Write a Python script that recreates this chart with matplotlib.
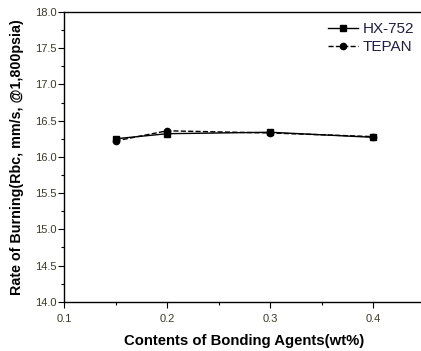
import matplotlib
matplotlib.use('Agg')
import matplotlib.pyplot as plt
from matplotlib.ticker import MultipleLocator

plt.rcParams['font.family'] = ['Liberation Sans', 'DejaVu Sans']

content = [0.15, 0.2, 0.3, 0.4]
hx752 = [16.25, 16.32, 16.34, 16.27]
tepan = [16.22, 16.36, 16.33, 16.28]

fig = plt.figure(figsize=(4.21, 3.51), dpi=100)
ax = fig.add_axes([0.152, 0.14, 0.857, 0.826])

ax.plot(content, hx752, '-', color='black', lw=1.0, marker='s', ms=5, label='HX-752')
ax.plot(content, tepan, '--', color='black', lw=1.0, marker='o', ms=4.5, label='TEPAN')

ax.set_xlim(0.1, 0.45)
ax.set_ylim(14.0, 18.0)
ax.xaxis.set_minor_locator(MultipleLocator(0.05))
ax.yaxis.set_minor_locator(MultipleLocator(0.25))
ax.set_xticks([0.1, 0.2, 0.3, 0.4])
ax.set_xticklabels(['0.1', '0.2', '0.3', '0.4'])
ax.set_yticks([14.0 + 0.5 * i for i in range(9)])
ax.set_yticklabels(['%.1f' % (14.0 + 0.5 * i) for i in range(9)])

ax.tick_params(which='major', direction='out', length=4, width=0.8,
               labelsize=8, labelcolor='#3a3a2a', pad=1.5)
ax.tick_params(axis='x', which='major', pad=5)
ax.tick_params(which='minor', direction='out', length=2, width=0.8)
for s in ax.spines.values():
    s.set_linewidth(1.0)

ax.set_xlabel('Contents of Bonding Agents(wt%)', fontsize=10.7, fontweight='bold', labelpad=7)
ax.set_ylabel('Rate of Burning(Rbc, mm/s, @1,800psia)', fontsize=10.3, fontweight='bold', labelpad=8)

leg = ax.legend(loc='upper right', bbox_to_anchor=(1.009, 1.013), frameon=False,
                fontsize=11, handlelength=2.0, handletextpad=0.3, labelspacing=0.3)
for t in leg.get_texts():
    t.set_color('#1f1f45')

fig.savefig('out.png', dpi=100)
